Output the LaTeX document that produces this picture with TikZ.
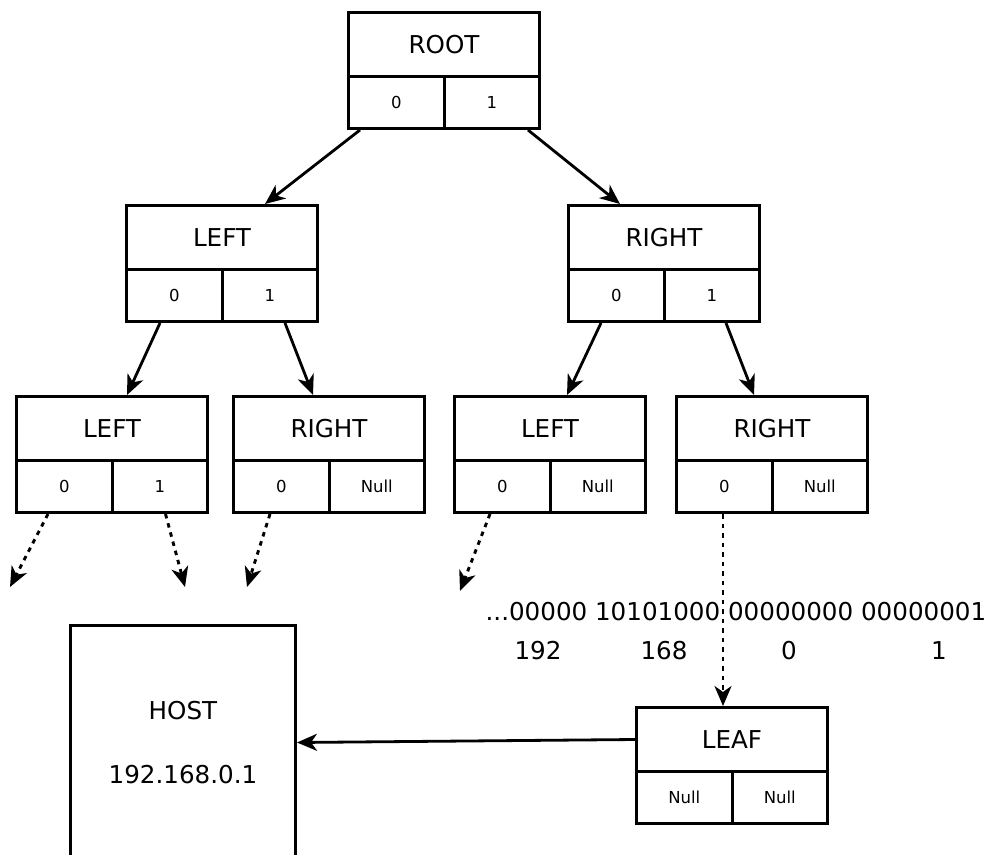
\documentclass[tikz,border=0pt]{standalone}
\usepackage{fontspec}
\setmainfont{DejaVu Sans}
\usetikzlibrary{arrows.meta,calc}

% one trie entry: a title box with two child cells beneath it
% #1 name, #2 x, #3 y (top-left corner), #4 title, #5 left cell, #6 right cell
\newcommand\triebox[6]{%
  \node[titlebox] (#1) at (#2,#3) {#4};
  \node[cellbox] (#1-0) at (#2,#3+64) {#5};
  \node[cellbox] (#1-1) at (#2+95.5,#3+64) {#6};
}

\begin{document}
\begin{tikzpicture}[x=1pt,y=-1pt,
  titlebox/.style={draw, line width=3pt, minimum width=191pt, minimum height=64pt,
    inner sep=0pt, anchor=north west, font=\fontsize{24.6}{28}\selectfont},
  cellbox/.style={draw, line width=3pt, minimum width=95.5pt, minimum height=52pt,
    inner sep=0pt, anchor=north west, font=\fontsize{16.5}{18}\selectfont},
  hostbox/.style={draw, line width=3pt, minimum width=225pt, minimum height=234pt,
    inner sep=0pt, anchor=north west, align=center, font=\fontsize{24.6}{64}\selectfont},
  link/.style={line width=2.8pt, -{Stealth[length=20pt,width=17pt,inset=6pt]}},
  hint/.style={link, line width=2.9pt, dash pattern=on 4.5pt off 5pt},
  lbl/.style={inner sep=0pt, font=\fontsize{24.6}{28}\selectfont}
]
\clip (0,0) rectangle (990,854);
\fill[white] (0,0) rectangle (990,854);

% tree levels
\triebox{root}{347}{11}{ROOT}{0}{1}
\triebox{L}{125}{204}{LEFT}{0}{1}
\triebox{R}{567}{204}{RIGHT}{0}{1}
\triebox{LL}{15}{395}{LEFT}{0}{1}
\triebox{LR}{232}{395}{RIGHT}{0}{Null}
\triebox{RL}{453}{395}{LEFT}{0}{Null}
\triebox{RR}{675}{395}{RIGHT}{0}{Null}
\triebox{leaf}{635}{706}{LEAF}{Null}{Null}

% host record
\node[hostbox] (host) at (69,624) {HOST\\192.168.0.1};

% address bits and their decimal octets
\node[lbl] (bits) at (736,612) {...00000 10101000 00000000 00000001};
\node[lbl] (o1) at (538,651) {192};
\node[lbl] (o2) at (664,651) {168};
\node[lbl] (o3) at (789,651) {0};
\node[lbl] (o4) at (939,651) {1};

% open ends of the unexpanded branches
\coordinate (e1) at (10,587);
\coordinate (e2) at (185,587);
\coordinate (e3) at (247,587);
\coordinate (e4) at (460,591);

% child links
\draw[link] ([xshift=13pt]root-0.south west) -- ([xshift=140pt]L.north west);
\draw[link] ([xshift=-13pt]root-1.south east) -- ([xshift=53pt]R.north west);
\draw[link] ([xshift=35pt]L-0.south west) -- ([xshift=112pt]LL.north west);
\draw[link] ([xshift=-34pt]L-1.south east) -- ([xshift=81pt]LR.north west);
\draw[link] ([xshift=34pt]R-0.south west) -- ([xshift=114pt]RL.north west);
\draw[link] ([xshift=-35pt]R-1.south east) -- ([xshift=79pt]RR.north west);

% elided paths
\draw[hint] ([xshift=33pt]LL-0.south west) -- (e1);
\draw[hint] ([xshift=55pt]LL-1.south west) -- (e2);
\draw[hint] ([xshift=38pt]LR-0.south west) -- (e3);
\draw[hint] ([xshift=37pt]RL-0.south west) -- (e4);
\draw[hint] ([xshift=48pt]RR-0.south west) -- ([xshift=88pt]leaf.north west);

% leaf points at the host
\draw[link] (leaf.west) -- (host.east);
\end{tikzpicture}
\end{document}
